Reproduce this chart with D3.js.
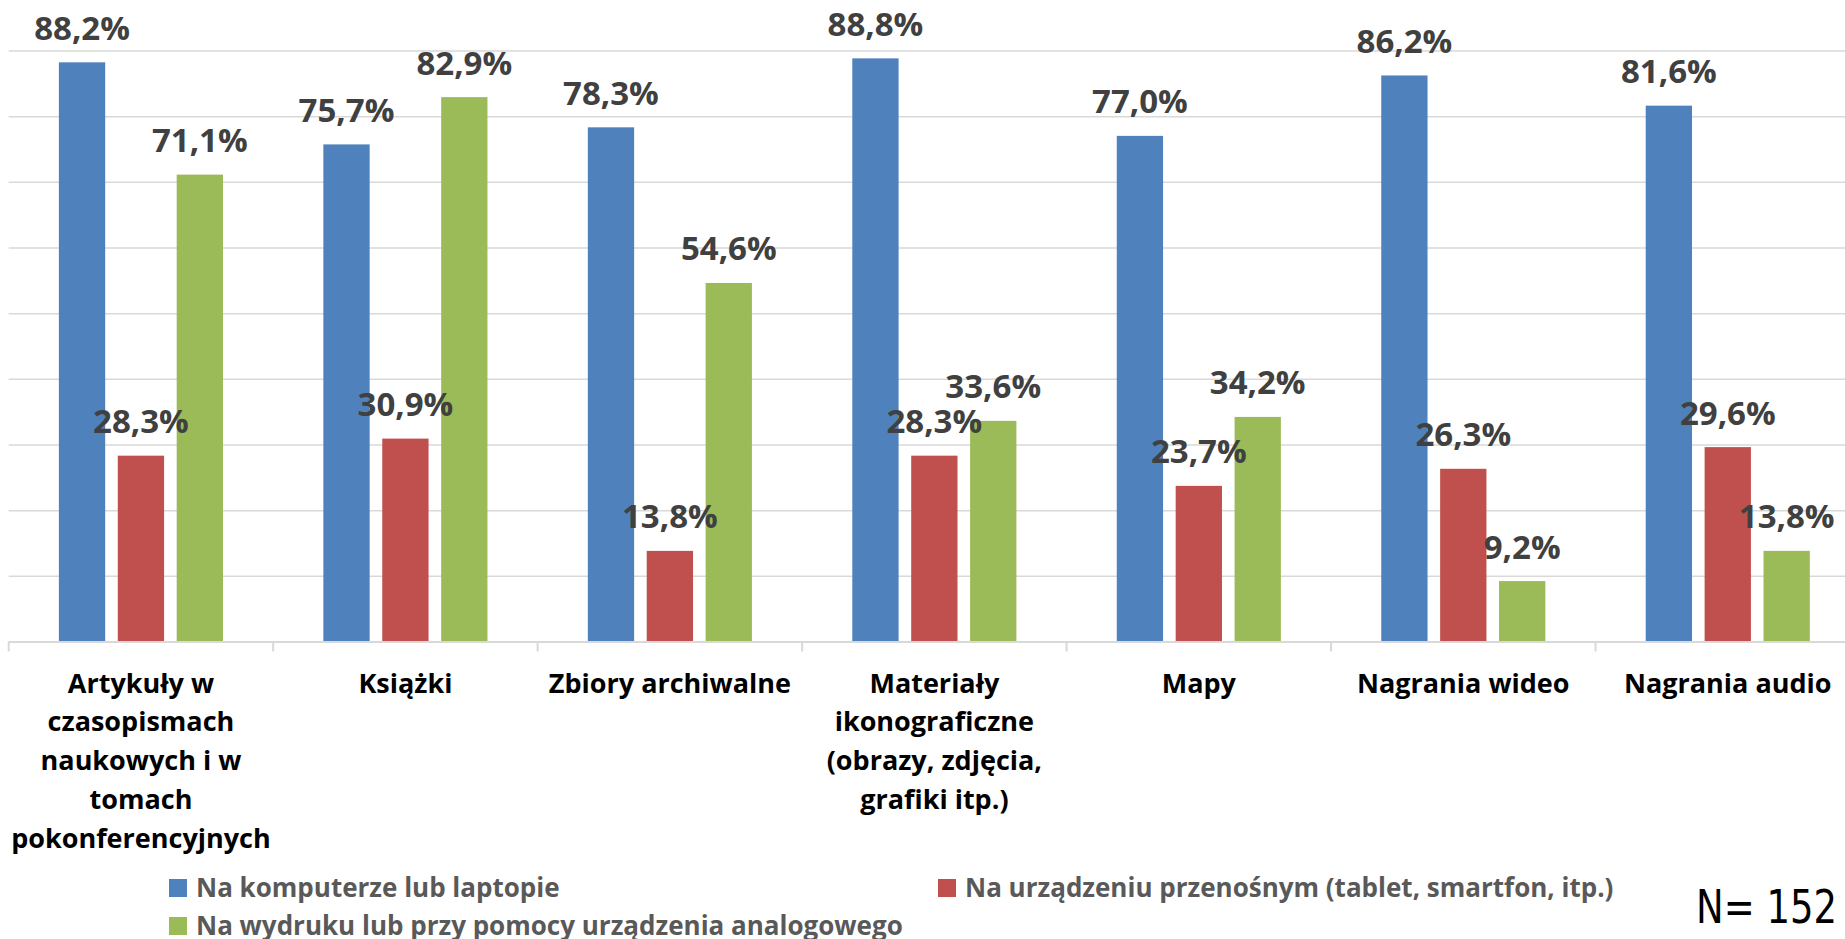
<!DOCTYPE html>
<html>
<head>
<meta charset="utf-8">
<script src="https://cdn.jsdelivr.net/npm/d3@7"></script>
<style>
  body { margin: 0; background: #fff; }
  svg { display: block; }
</style>
</head>
<body>
<div id="chart"></div>
<script>
// dane z wykresu
const categories = [
  'Artykuły w czasopismach naukowych i w tomach pokonferencyjnych',
  'Książki',
  'Zbiory archiwalne',
  'Materiały ikonograficzne (obrazy, zdjęcia, grafiki itp.)',
  'Mapy',
  'Nagrania wideo',
  'Nagrania audio'
];
const seriesNames = [
  'Na komputerze lub laptopie',
  'Na urządzeniu przenośnym (tablet, smartfon, itp.)',
  'Na wydruku lub przy pomocy urządzenia analogowego'
];
const laptopValues = [88.2, 75.7, 78.3, 88.8, 77.0, 86.2, 81.6];
const mobileValues = [28.3, 30.9, 13.8, 28.3, 23.7, 26.3, 29.6];
const printValues = [71.1, 82.9, 54.6, 33.6, 34.2, 9.2, 13.8];
const yTicks = [0, 10, 20, 30, 40, 50, 60, 70, 80, 90];
const sampleNote = 'N= 152';

const colors = ['#4f81bd', '#c0504d', '#9bbb59'];
const width = 1845;
const height = 939;
const font = "'Open Sans', 'Noto Sans', sans-serif";

const series = [laptopValues, mobileValues, printValues];
const rows = categories.map((c, i) => ({
  category: c,
  values: seriesNames.map((s, j) => ({ name: s, value: series[j][i] }))
}));

const plDecimal = d3.formatLocale({ decimal: ',', thousands: ' ', grouping: [3], currency: ['', ' zł'] });
const fmt = v => plDecimal.format('.1f')(v) + '%';

const svg = d3.select('#chart')
  .append('svg')
  .attr('width', width)
  .attr('height', height)
  .style('font-family', font);

svg.append('rect').attr('width', width).attr('height', height).attr('fill', '#fff');

// skale (obszar wykresu wychodzi poza prawą krawędź, jak w oryginale)
const x0 = d3.scaleBand()
  .domain(categories)
  .range([8.7, 1860])
  .padding(0);

const x1 = d3.scaleBand()
  .domain(seriesNames)
  .range([0, x0.bandwidth()])
  .paddingInner(0.214)
  .paddingOuter(0.852);

const y = d3.scaleLinear()
  .domain([0, 90])
  .range([641.5, 50.5]);

// linie siatki
svg.append('g')
  .attr('transform', `translate(${x0.range()[0]},0)`)
  .call(d3.axisLeft(y).tickValues(yTicks).tickSize(-(x0.range()[1] - x0.range()[0])).tickFormat(''))
  .call(g => g.select('.domain').remove())
  .selectAll('line')
  .attr('stroke', '#d9d9d9')
  .attr('stroke-width', 1.5);

// słupki
const groups = svg.append('g')
  .selectAll('g')
  .data(rows)
  .enter()
  .append('g')
  .attr('transform', d => `translate(${x0(d.category)},0)`);

groups.selectAll('rect')
  .data(d => d.values)
  .enter()
  .append('rect')
  .attr('x', d => x1(d.name))
  .attr('y', d => y(d.value))
  .attr('width', x1.bandwidth())
  .attr('height', d => y(0) - y(d.value))
  .attr('fill', (d, i) => colors[i]);

// etykiety danych
groups.selectAll('text')
  .data(d => d.values)
  .enter()
  .append('text')
  .attr('x', d => x1(d.name) + x1.bandwidth() / 2)
  .attr('y', d => y(d.value) - 22.5)
  .attr('text-anchor', 'middle')
  .attr('fill', '#404040')
  .style('font-size', '33px')
  .style('font-weight', 'bold')
  .text(d => fmt(d.value));

// oś X
const xAxis = svg.append('g')
  .attr('transform', `translate(0,${y(0)})`)
  .call(d3.axisBottom(x0).tickSize(0).tickSizeOuter(0));

xAxis.select('.domain')
  .attr('stroke', '#d9d9d9')
  .attr('stroke-width', 2);

// znaczniki na granicach kategorii
xAxis.selectAll('.edge')
  .data(categories)
  .enter()
  .append('line')
  .attr('class', 'edge')
  .attr('x1', d => x0(d))
  .attr('x2', d => x0(d))
  .attr('y1', 0)
  .attr('y2', 10)
  .attr('stroke', '#d9d9d9')
  .attr('stroke-width', 2);

// zawijanie podpisów kategorii
const maxLabelWidth = 258;
xAxis.selectAll('.tick text')
  .attr('y', 0)
  .attr('dy', 0)
  .attr('fill', '#000')
  .style('font-family', font)
  .style('font-size', '27px')
  .style('font-weight', 'bold')
  .each(function(d) {
    const text = d3.select(this);
    const words = d.split(' ');
    text.text(null);
    let lines = [];
    let line = [];
    let tspan = text.append('tspan').attr('x', 0);
    words.forEach(w => {
      line.push(w);
      tspan.text(line.join(' '));
      if (tspan.node().getComputedTextLength() > maxLabelWidth && line.length > 1) {
        line.pop();
        lines.push(line.join(' '));
        line = [w];
      }
    });
    lines.push(line.join(' '));
    text.text(null);
    lines.forEach((l, i) => {
      text.append('tspan')
        .attr('x', 0)
        .attr('y', 51 + i * 38.8)
        .text(l);
    });
  });

// legenda
const legendPos = [[169, 879], [938, 879], [169, 917]];
const legend = svg.append('g')
  .selectAll('g')
  .data(seriesNames)
  .enter()
  .append('g')
  .attr('transform', (d, i) => `translate(${legendPos[i][0]},${legendPos[i][1]})`);

legend.append('rect')
  .attr('width', 18)
  .attr('height', 18)
  .attr('fill', (d, i) => colors[i]);

legend.append('text')
  .attr('x', 27)
  .attr('y', 18)
  .attr('fill', '#595959')
  .style('font-size', '26px')
  .style('font-weight', 'bold')
  .text(d => d);

// liczebność próby
svg.append('text')
  .attr('x', 1696)
  .attr('y', 922.7)
  .attr('fill', '#000')
  .attr('textLength', 141)
  .attr('lengthAdjust', 'spacingAndGlyphs')
  .style('font-family', "'Liberation Sans Narrow', 'DejaVu Sans Condensed', 'Liberation Sans', sans-serif")
  .style('font-size', '46px')
  .text(sampleNote);
</script>
</body>
</html>
